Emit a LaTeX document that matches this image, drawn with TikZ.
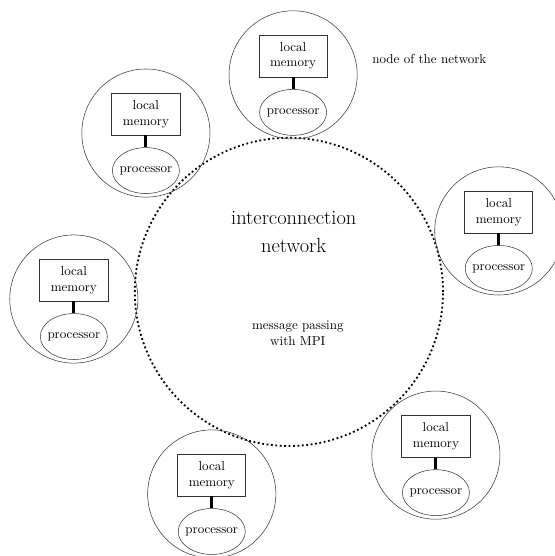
\documentclass[tikz,border=0pt]{standalone}
\usepackage{tikz}
\usetikzlibrary{shapes.geometric,positioning}
\tikzset{
    network/.style={draw, dotted, line width=1.4pt, circle, minimum size=8.32cm},
    pcnode/.style={draw=black!80, circle, minimum size=3.46cm},
    memory/.style={draw=black!80, semithick, rectangle, align=center, minimum width=1.84cm, minimum height=1.13cm},
    processor/.style={draw=black!80, ellipse, inner xsep=-2pt, minimum width=1.75cm, minimum height=1.24cm},
    wire/.style={line width=2.4pt}
}

\begin{document}
\begin{tikzpicture}[node distance = 0.32cm]
    \useasboundingbox (-7.80,-7.13) rectangle (7.18,7.88);
    \node[network] (net) at (0,0) {};
    \node[font=\fontsize{15.7}{21}\selectfont, align=center] (title) at (0.13,1.62) {interconnection\\network};
    \node[align=center] (mpi) at (0.24,-1.12) {message passing\\with MPI};
    \node (label) at (3.79,6.29) {node of the network};

    \node[pcnode] (N1) at (88.9:5.86) {};
    \node[memory] (M1) at ([yshift=0.51cm]N1) {local\\memory};
    \node[processor] (P1) [below = of M1] {processor};

    \node[pcnode] (N2) at (132:5.77) {};
    \node[memory] (M2) at ([yshift=0.51cm]N2) {local\\memory};
    \node[processor] (P2) [below = of M2] {processor};

    \node[pcnode] (N3) at (16.2:5.90) {};
    \node[memory] (M3) at ([yshift=0.51cm]N3) {local\\memory};
    \node[processor] (P3) [below = of M3] {processor};

    \node[pcnode] (N4) at (181.9:5.81) {};
    \node[memory] (M4) at ([yshift=0.51cm]N4) {local\\memory};
    \node[processor] (P4) [below = of M4] {processor};

    \node[pcnode] (N5) at (249.1:5.84) {};
    \node[memory] (M5) at ([yshift=0.51cm]N5) {local\\memory};
    \node[processor] (P5) [below = of M5] {processor};

    \node[pcnode] (N6) at (312:5.93) {};
    \node[memory] (M6) at ([yshift=0.51cm]N6) {local\\memory};
    \node[processor] (P6) [below = of M6] {processor};

    \draw[wire] (M1) -- (P1)
                (M2) -- (P2)
                (M3) -- (P3)
                (M4) -- (P4)
                (M5) -- (P5)
                (M6) -- (P6);
\end{tikzpicture}
\end{document}
